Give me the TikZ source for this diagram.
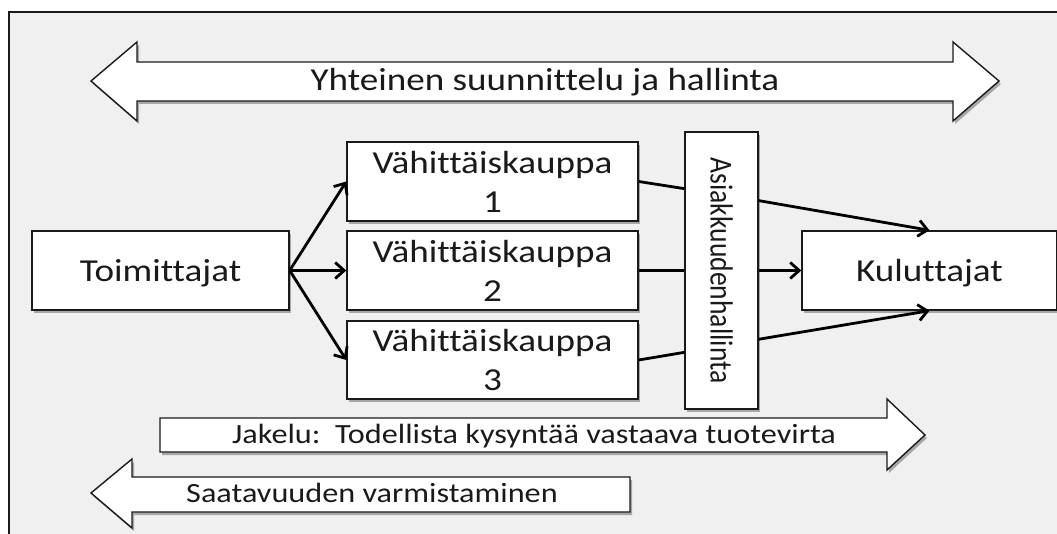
\documentclass[tikz,border=0pt]{standalone}
\usepackage{fontspec}
\setmainfont{Carlito}[Ligatures=NoCommon, FakeStretch=1.16]
\newfontfamily\uprightfont{Carlito}[Ligatures=NoCommon]
\usetikzlibrary{arrows.meta,shadows,calc}
\definecolor{panel}{HTML}{F0F0F0}
\definecolor{ink}{HTML}{1A1A1A}
\begin{document}
\begin{tikzpicture}[x=1pt,y=-1pt,
  softshadow/.style={drop shadow={shadow xshift=2pt, shadow yshift=-3pt, opacity=0.3, fill=black}},
  box/.style={draw=ink, line width=1.4pt, fill=white, rectangle, inner sep=0pt,
    minimum height=79pt, softshadow},
  lbl/.style={font=\fontsize{32}{39}\selectfont, text=ink, align=center},
  small/.style={font=\fontsize{27.8}{33}\selectfont, text=ink},
  blockarrow/.style={draw=ink, line width=1.4pt, fill=white, line join=miter, softshadow},
  flow/.style={draw=black, line width=2.8pt},
  tip/.style={flow, -{Straight Barb[length=9pt, width=16pt]}}
]
% page and grey panel
\useasboundingbox (0,0) rectangle (1057,534);
\fill[white] (0,0) rectangle (1057,534);
\draw[fill=panel, draw=ink, line width=1.4pt] (9,12) rectangle (1075,560);

% wide block arrows
\draw[blockarrow] (91,81) -- (137,42) -- (137,62) -- (953,62) -- (953,42) -- (999,81)
  -- (953,121) -- (953,101) -- (137,101) -- (137,121) -- cycle;
\node[lbl, anchor=base] (plan) at (545,91) {Yhteinen suunnittelu ja hallinta};

\draw[blockarrow] (160,418) -- (887,418) -- (887,399) -- (925,435) -- (887,470)
  -- (887,452) -- (160,452) -- cycle;
\node[small, anchor=base] (jakelu) at (534,443) {Jakelu:\ \ Todellista kysyntää vastaava tuotevirta};

\draw[blockarrow] (91,493) -- (132,459) -- (132,477) -- (630,477) -- (630,512)
  -- (132,512) -- (132,528) -- cycle;
\node[small, anchor=base] (saatavuus) at (372,502) {Saatavuuden varmistaminen};

% boxes
\node[box, lbl, minimum width=257pt, text height=24pt, text depth=2pt] (to) at (160.5,270.5) {Toimittajat};
\node[box, lbl, minimum width=291pt] (v1) at (492.5,181.5) {Vähittäiskauppa\\1};
\node[box, lbl, minimum width=291pt] (v2) at (492.5,270.5) {Vähittäiskauppa\\2};
\node[box, lbl, minimum width=291pt, minimum height=78pt] (v3) at (492.5,360) {Vähittäiskauppa\\3};
\node[box, lbl, minimum width=73pt, minimum height=277pt] (as) at (721.5,270.5)
  {\rotatebox{-90}{\scalebox{1}[1.16]{\uprightfont\fontsize{27.6}{33}\selectfont Asiakkuudenhallinta}}};
\node[box, lbl, minimum width=255pt, text height=24pt, text depth=2pt] (ku) at (929.5,270.5) {Kuluttajat};

% attachment points on the customer-management bar
\coordinate (a1in)  at ($(as.north west)!0.206!(as.south west)$);
\coordinate (a3in)  at ($(as.north west)!0.794!(as.south west)$);
\coordinate (a1out) at ($(as.north east)!0.249!(as.south east)$);
\coordinate (a3out) at ($(as.north east)!0.747!(as.south east)$);

% connectors
\draw[tip] (to.east) -- (v1.west);
\draw[tip] (to.east) -- (v2.west);
\draw[tip] (to.east) -- (v3.west);
\draw[flow] (v1.east) -- (a1in);
\draw[flow] (v2.east) -- (as.west);
\draw[flow] (v3.east) -- (a3in);
\draw[tip] (a1out) -- (ku.north);
\draw[tip] (as.east) -- (ku.west);
\draw[tip] (a3out) -- (ku.south);
\end{tikzpicture}
\end{document}
